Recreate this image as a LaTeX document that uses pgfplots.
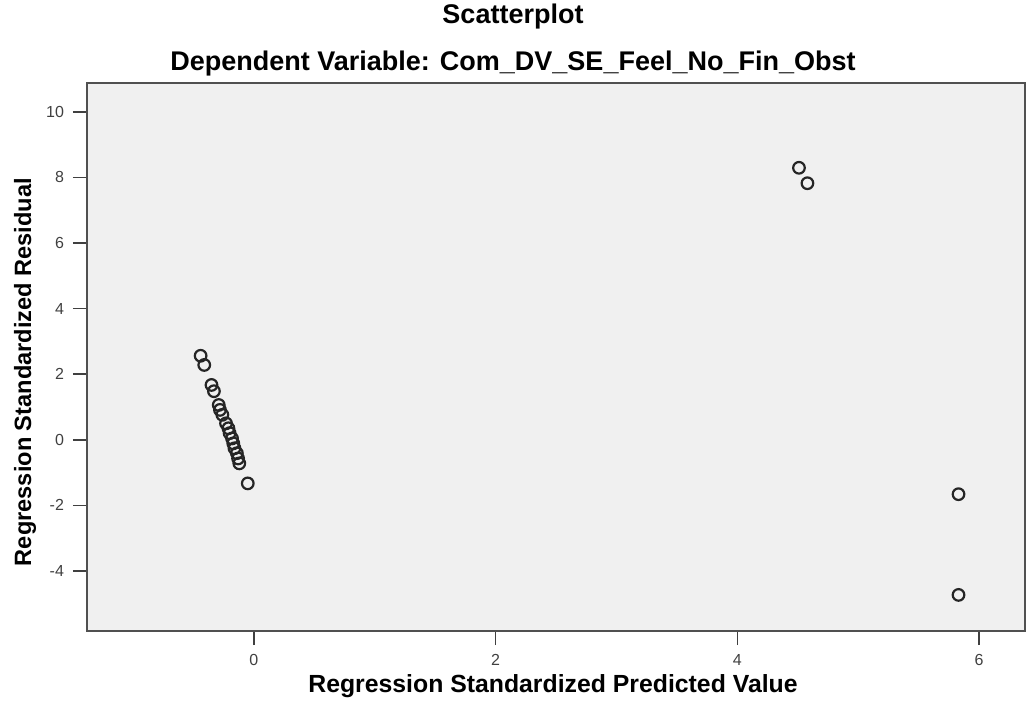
\documentclass[border=0pt]{standalone}
\usepackage{fontspec}
\setmainfont{Liberation Sans}
\usepackage{pgfplots}
\pgfplotsset{compat=1.18}
\definecolor{bgc}{HTML}{F0F0F0}
\definecolor{framec}{HTML}{505050}
\definecolor{tickc}{HTML}{404040}
\definecolor{markc}{HTML}{252525}
\begin{document}
\begin{tikzpicture}
\begin{axis}[
  scale only axis,
  width=469pt, height=273.75pt,
  xmin=-1.38, xmax=6.38,
  ymin=-5.83, ymax=10.86,
  xtick={0,2,4,6}, ytick={-4,-2,0,2,4,6,8,10},
  tick align=outside,
  major tick length=7pt,
  tick style={color=tickc, line width=0.8pt},
  xtick pos=bottom, ytick pos=left,
  axis line style={color=framec, line width=1pt},
  axis background/.style={fill=bgc},
  tick label style={font=\fontsize{8}{9}\selectfont, color=tickc},
  /pgf/number format/assume math mode=true,
  xticklabel style={yshift=-1pt},
  yticklabel style={xshift=-1pt},
  clip=false,
]
\addplot[only marks, mark=o, mark size=2.9pt, mark options={line width=1.1pt, draw=markc}] coordinates {
(-0.44,2.56) (-0.41,2.28) (-0.35,1.67) (-0.33,1.48) (-0.29,1.06) (-0.28,0.91)
(-0.26,0.76) (-0.23,0.50) (-0.21,0.35) (-0.20,0.20) (-0.18,0.04) (-0.17,-0.11)
(-0.16,-0.26) (-0.14,-0.41) (-0.13,-0.57) (-0.12,-0.72) (-0.05,-1.33)
(4.51,8.29) (4.58,7.82) (5.83,-1.66) (5.83,-4.73)
};
\end{axis}
\node[font=\bfseries\fontsize{13.5}{15}\selectfont] at (213pt,307pt) {Scatterplot};
\node[font=\bfseries\fontsize{13.5}{15}\selectfont] at (213pt,283.5pt) {Dependent Variable: Com\_DV\_SE\_Feel\_No\_Fin\_Obst};
\node[font=\bfseries\fontsize{12.4}{14}\selectfont] at (233pt,-27.5pt) {Regression Standardized Predicted Value};
\node[font=\bfseries\fontsize{11.8}{14}\selectfont, rotate=90] at (-31pt,129.5pt) {Regression Standardized Residual};
\pgfresetboundingbox
\path (-43.5pt,-35.5pt) rectangle (471pt,315.5pt);
\end{tikzpicture}
\end{document}
